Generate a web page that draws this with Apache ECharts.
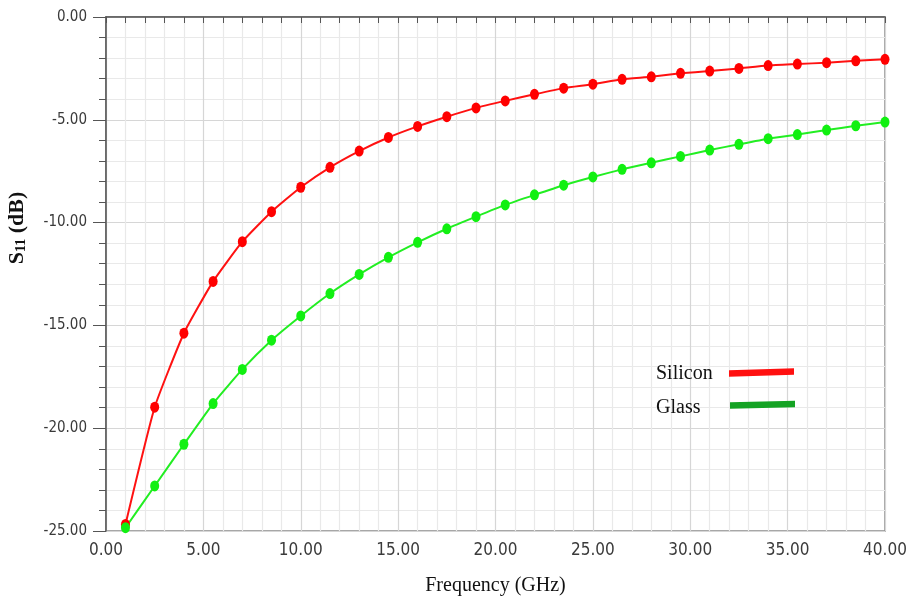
<!DOCTYPE html>
<html>
<head>
<meta charset="utf-8">
<script src="https://cdn.jsdelivr.net/npm/echarts@6/dist/echarts.min.js"></script>
<style>
  html, body { margin: 0; padding: 0; background: #fff; }
  #chart { width: 910px; height: 606px; }
</style>
</head>
<body>
<div id="chart"></div>
<script>
// Sample frequencies (GHz)
const frequencies = [1, 2.5, 4, 5.5, 7, 8.5, 10, 11.5, 13, 14.5, 16, 17.5, 19, 20.5,
  22, 23.5, 25, 26.5, 28, 29.5, 31, 32.5, 34, 35.5, 37, 38.5, 40];

// S11 (dB) on a silicon substrate
const siliconS11 = [-24.68, -18.98, -15.38, -12.86, -10.93, -9.47, -8.28, -7.31, -6.52,
  -5.86, -5.32, -4.85, -4.42, -4.08, -3.76, -3.46, -3.27, -3.03, -2.91, -2.74,
  -2.63, -2.50, -2.36, -2.29, -2.22, -2.13, -2.06];

// S11 (dB) on a glass substrate
const glassS11 = [-24.84, -22.81, -20.78, -18.80, -17.14, -15.72, -14.54, -13.45, -12.52,
  -11.69, -10.96, -10.30, -9.71, -9.14, -8.65, -8.18, -7.78, -7.41, -7.09, -6.78,
  -6.47, -6.19, -5.92, -5.72, -5.50, -5.29, -5.11];

const seriesNames = ['Silicon', 'Glass'];

const pair = (xs, ys) => xs.map((x, i) => [x, ys[i]]);

const chart = echarts.init(document.getElementById('chart'), null, { renderer: 'canvas' });

const tickFont = '"DejaVu Sans Condensed", "Liberation Sans Narrow", "Liberation Sans", sans-serif';
const serif = '"Liberation Serif", "Times New Roman", serif';

chart.setOption({
  animation: false,
  backgroundColor: '#ffffff',
  grid: {
    left: 106, right: 25, top: 17, bottom: 75,
    show: true, borderColor: '#8a8a8a', borderWidth: 1.5, backgroundColor: 'transparent'
  },
  xAxis: {
    type: 'value', min: 0, max: 40, interval: 5,
    axisLine: { lineStyle: { color: '#555', width: 1.5 } },
    axisTick: { show: true, length: 6, lineStyle: { color: '#555' } },
    minorTick: { show: true, splitNumber: 5, length: 6, lineStyle: { color: '#555' } },
    splitLine: { show: true, lineStyle: { color: '#d6d6d6', width: 1.2 } },
    minorSplitLine: { show: true, lineStyle: { color: '#e9e9e9', width: 1.2 } },
    axisLabel: {
      formatter: v => v.toFixed(2), margin: 11,
      fontFamily: tickFont, fontSize: 17, color: '#3a3a3a'
    },
    name: 'Frequency (GHz)', nameLocation: 'middle', nameGap: 45,
    nameTextStyle: { fontFamily: serif, fontSize: 20, color: '#111' }
  },
  yAxis: {
    type: 'value', min: -25, max: 0, interval: 5,
    axisLine: { lineStyle: { color: '#555', width: 1.5 } },
    axisTick: { show: true, length: 13, lineStyle: { color: '#555' } },
    minorTick: { show: true, splitNumber: 5, length: 7, lineStyle: { color: '#555' } },
    splitLine: { show: true, lineStyle: { color: '#d6d6d6', width: 1.2 } },
    minorSplitLine: { show: true, lineStyle: { color: '#e9e9e9', width: 1.2 } },
    axisLabel: {
      formatter: v => v.toFixed(2), margin: 19,
      fontFamily: tickFont, fontSize: 15, color: '#3a3a3a'
    }
  },
  series: [
    {
      name: seriesNames[0], type: 'line', smooth: 0.15,
      data: pair(frequencies, siliconS11),
      symbol: 'circle', symbolSize: [9, 11],
      lineStyle: { color: '#ff1111', width: 2 },
      itemStyle: { color: '#ff0000' }
    },
    {
      name: seriesNames[1], type: 'line', smooth: 0.15,
      data: pair(frequencies, glassS11),
      symbol: 'circle', symbolSize: [9, 11],
      lineStyle: { color: '#22ee22', width: 2 },
      itemStyle: { color: '#11f011' }
    }
  ],
  graphic: [
    {
      type: 'text', x: 17, y: 228, rotation: Math.PI / 2, z: 100,
      style: {
        text: 'S{sub|11} (dB)', fill: '#111',
        font: 'bold 22px ' + serif,
        align: 'center', verticalAlign: 'middle',
        rich: { sub: { fontSize: 14, fontWeight: 'bold', fontFamily: serif, verticalAlign: 'bottom', padding: [9, 0, 0, 0] } }
      }
    },
    // Legend: labels with thick colour bars
    {
      type: 'text', x: 656, y: 374, z: 100,
      style: { text: seriesNames[0], font: '20px ' + serif, fill: '#111', verticalAlign: 'middle' }
    },
    {
      type: 'text', x: 656, y: 408, z: 100,
      style: { text: seriesNames[1], font: '20px ' + serif, fill: '#111', verticalAlign: 'middle' }
    },
    {
      type: 'polygon', z: 100,
      shape: { points: [[729, 370.3], [794, 368.3], [794, 374.8], [729, 376.8]] },
      style: { fill: '#ff1010' }
    },
    {
      type: 'polygon', z: 100,
      shape: { points: [[730, 402.3], [795, 400.8], [795, 407.3], [730, 408.8]] },
      style: { fill: '#14a324' }
    }
  ]
});
</script>
</body>
</html>
